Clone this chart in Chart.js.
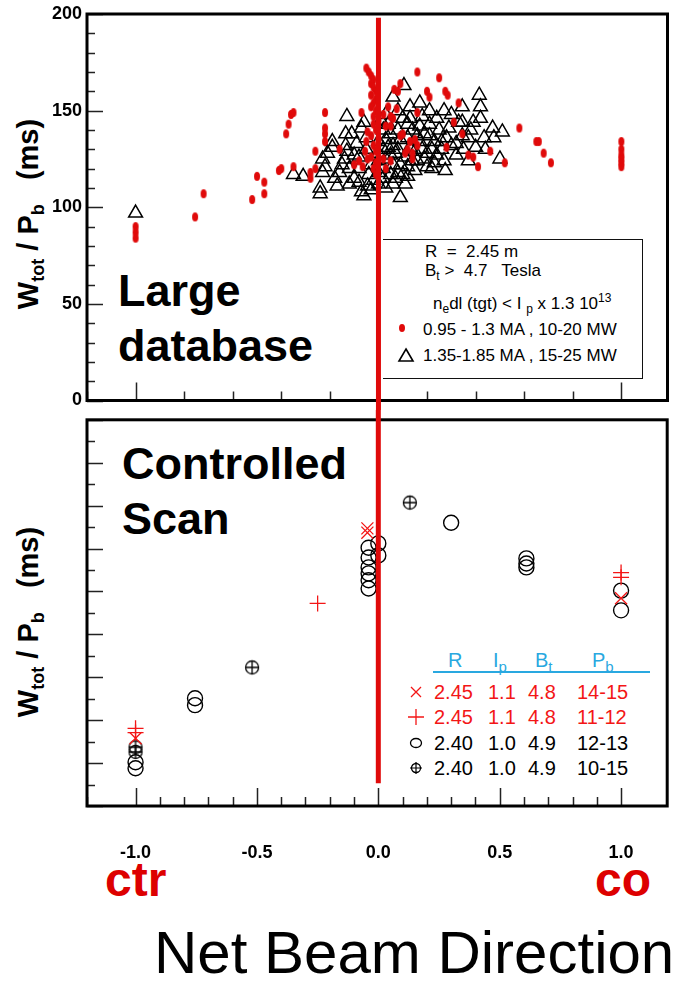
<!DOCTYPE html>
<html><head><meta charset="utf-8">
<script src="https://cdn.jsdelivr.net/npm/chart.js@4.4.0/dist/chart.umd.min.js"></script>
<style>
body{margin:0;background:#fff;font-family:"Liberation Sans",Arial,sans-serif}
#wrap{position:relative;width:677px;height:981px;overflow:hidden;background:#fff}
.t{position:absolute;white-space:pre;line-height:1}
.b{font-weight:bold}
canvas{position:absolute;left:0}
svg{position:absolute;overflow:visible}
.ytitle{position:absolute;white-space:pre;line-height:1;font-weight:bold;font-size:29px;transform:translate(-50%,-50%) rotate(-90deg)}
.ytitle sub{font-size:18px;vertical-align:-6px}
</style></head><body>
<div id="wrap">
  <div class="ytitle" style="left:30px;top:214px">W<sub>tot</sub> / P<sub>b</sub>   (ms)</div>
  <div class="ytitle" style="left:30px;top:622px">W<sub>tot</sub> / P<sub>b</sub>   (ms)</div>

  <div class="t b" style="left:118px;top:268px;font-size:45px">Large</div>
  <div class="t b" style="left:118px;top:323px;font-size:45px">database</div>
  <div class="t b" style="left:122px;top:441px;font-size:45px">Controlled</div>
  <div class="t b" style="left:122px;top:496px;font-size:45px">Scan</div>

  <div style="position:absolute;left:383px;top:239px;width:259px;height:138px;border:1.5px solid #111;border-left:none"></div>
  <div class="t" style="left:425px;top:243px;font-size:17px">R  =  2.45 m</div>
  <div class="t" style="left:425px;top:262px;font-size:17px">B<sub style="font-size:12px">t</sub> &gt;  4.7   Tesla</div>
  <div class="t" style="left:433px;top:292px;font-size:17px">n<sub style="font-size:12px">e</sub>dl (tgt) &lt; I <sub style="font-size:12px">p</sub> x 1.3 10<sup style="font-size:12px">13</sup></div>
  <svg style="left:398px;top:323px" width="8" height="10"><ellipse cx="4" cy="5" rx="3" ry="4" fill="#e00a0a"/></svg>
  <div class="t" style="left:423px;top:321px;font-size:17px">0.95 - 1.3 MA , 10-20 MW</div>
  <svg style="left:398px;top:348px" width="16" height="14"><polygon points="8,1 15,13 1,13" fill="none" stroke="#000" stroke-width="1.6"/></svg>
  <div class="t" style="left:423px;top:347px;font-size:17px">1.35-1.85 MA , 15-25 MW</div>

  <div class="t" style="left:448px;top:650px;font-size:20px;color:#29a8e0">R</div>
  <div class="t" style="left:493px;top:650px;font-size:20px;color:#29a8e0">I<sub style="font-size:15px">p</sub></div>
  <div class="t" style="left:535px;top:650px;font-size:20px;color:#29a8e0">B<sub style="font-size:15px">t</sub></div>
  <div class="t" style="left:592px;top:650px;font-size:20px;color:#29a8e0">P<sub style="font-size:15px">b</sub></div>
  <div style="position:absolute;left:433px;top:671px;width:217px;height:1.5px;background:#29a8e0"></div>

  <svg style="left:410px;top:686px" width="12" height="12"><path d="M1,1 L11,11 M11,1 L1,11" stroke="#f31616" stroke-width="1.3"/></svg>
  <svg style="left:408px;top:709px" width="16" height="16"><path d="M8,0 L8,16 M0,8 L16,8" stroke="#f31616" stroke-width="1.3"/></svg>
  <svg style="left:410px;top:738px" width="12" height="10"><ellipse cx="6" cy="5" rx="5.5" ry="4.5" fill="none" stroke="#000" stroke-width="1.3"/></svg>
  <svg style="left:410px;top:762px" width="12" height="12"><circle cx="6" cy="6" r="4.5" fill="none" stroke="#000" stroke-width="1.3"/><path d="M6,0 L6,12 M0,6 L12,6" stroke="#000" stroke-width="1.2"/></svg>

  <div class="t" style="left:434px;top:682px;font-size:20px;color:#f31616">2.45</div>
  <div class="t" style="left:488px;top:682px;font-size:20px;color:#f31616">1.1</div>
  <div class="t" style="left:528px;top:682px;font-size:20px;color:#f31616">4.8</div>
  <div class="t" style="left:577px;top:682px;font-size:20px;color:#f31616">14-15</div>
  <div class="t" style="left:434px;top:707px;font-size:20px;color:#f31616">2.45</div>
  <div class="t" style="left:488px;top:707px;font-size:20px;color:#f31616">1.1</div>
  <div class="t" style="left:528px;top:707px;font-size:20px;color:#f31616">4.8</div>
  <div class="t" style="left:577px;top:707px;font-size:20px;color:#f31616">11-12</div>
  <div class="t" style="left:434px;top:733px;font-size:20px">2.40</div>
  <div class="t" style="left:488px;top:733px;font-size:20px">1.0</div>
  <div class="t" style="left:528px;top:733px;font-size:20px">4.9</div>
  <div class="t" style="left:577px;top:733px;font-size:20px">12-13</div>
  <div class="t" style="left:434px;top:758px;font-size:20px">2.40</div>
  <div class="t" style="left:488px;top:758px;font-size:20px">1.0</div>
  <div class="t" style="left:528px;top:758px;font-size:20px">4.9</div>
  <div class="t" style="left:577px;top:758px;font-size:20px">10-15</div>

  <div class="t b" style="left:105px;top:856px;font-size:48px;color:#dd0000">ctr</div>
  <div class="t b" style="left:595px;top:856px;font-size:48px;color:#dd0000">co</div>
  <div class="t" style="left:154px;top:923px;font-size:60px">Net Beam Direction</div>

  <canvas id="cTop" width="677" height="410" style="top:0"></canvas>
  <canvas id="cBot" width="677" height="571" style="top:410px"></canvas>
</div>
<script>
// axis ranges
const X_MIN = -1.2, X_MAX = 1.19;
const TOP_Y = [0, 200];
const BOT_Y = [0, 90];

// large database: 0.95 - 1.3 MA , 10-20 MW  (x, Wtot/Pb)
const dbLowIp = [
  [-1.0,90],[-1.0,87],[-1.0,84],
  [-0.755,95],[-0.72,107],[-0.52,104],[-0.50,116],[-0.47,113],[-0.47,107],[-0.41,119],[-0.35,121],
  [-0.36,148],[-0.35,149],[-0.37,143],[-0.38,138],
  [-0.22,149],[-0.22,141],[-0.22,138],[-0.22,134],[-0.26,129],[-0.40,120],[-0.28,118],[-0.28,115],[-0.26,120],[-0.16,130],[-0.10,122],
  [-0.05,172],[-0.04,170],[-0.03,168],[-0.02,166],[-0.03,164],[-0.02,162],[-0.01,160],[-0.03,158],[-0.01,156],[-0.02,154],
  [-0.03,152],[-0.01,150],[-0.02,147],[0.0,145],[-0.02,143],[-0.01,140],[-0.03,137],[0.0,135],[-0.02,132],[-0.01,129],
  [-0.03,126],[-0.01,123],[-0.02,120],[-0.01,117],
  [-0.07,149],[-0.045,139],[-0.05,134],[-0.055,129],[-0.045,125],[-0.065,121],[-0.08,124],
  [0.04,152],[0.06,146],[0.065,161],[0.02,148],[0.03,142],
  [0.16,170],[0.25,167],[0.09,164],[0.08,160],[0.2,160],[0.21,157],[0.275,160],[0.285,158],[0.33,154],[0.075,151],
  [0.05,147],[0.16,149],[0.31,144],[0.345,138],[0.05,142],[0.09,137],[0.13,134],[0.12,130],[0.14,125],[0.28,131],
  [0.37,127],[0.39,126],[0.41,121],[0.46,129],[0.52,123],
  [0.1,138],[0.15,135],[0.16,132],[0.11,128],[0.14,128],[0.05,124],[0.02,125],[0.03,120],
  [0.58,141],[0.65,134],[0.66,134],[0.68,128],[0.71,123],
  [1.0,134],[1.0,130],[1.0,127],[1.0,125],[1.0,123],[1.0,121]
];
// large database: 1.35-1.85 MA , 15-25 MW
const dbHighIp = [
  [-1.0,97],
  [-0.35,117],[-0.31,116],[-0.24,110],[-0.24,107],[-0.17,111],[-0.22,121],[-0.23,118],[-0.23,125],[-0.21,128],[-0.19,131],
  [-0.19,134],[-0.16,118],[-0.14,125],[-0.135,138],[-0.135,132],[-0.13,147],[-0.13,129],[-0.12,120],[-0.10,127],[-0.10,115],
  [-0.09,133],[-0.08,126],[-0.08,120],[-0.08,113],[-0.07,108],[-0.06,144],[-0.05,136],[-0.05,130],[-0.045,111],[-0.04,117],
  [-0.03,122],[-0.03,109],[-0.02,114],[-0.15,122],[-0.18,115],[-0.12,112],[-0.06,106],[-0.11,138],[-0.07,141],
  [0.03,148],[0.06,157],[0.105,163],[0.13,152],[0.17,154],[0.21,150],[0.27,150],[0.415,158],[0.42,152],[0.42,146],
  [0.345,152],[0.345,144],[0.345,137],[0.39,144],[0.435,136],[0.47,141],[0.51,139],[0.475,136],[0.5,125],[0.275,119],
  [0.23,123],[0.15,119],[0.09,105],[0.08,118],[0.2,128],[0.26,134],[0.32,127],[0.32,133],[0.21,137],[0.17,142],
  [0.12,143],[0.17,134],[0.21,143],[0.29,141],[0.33,144],[0.11,126],[0.08,130],
  [0.02,140],[0.03,135],[0.02,130],[0.03,125],[0.02,120],[0.02,115],[0.03,110],[0.05,138],[0.06,132],[0.05,127],
  [0.06,122],[0.05,117],[0.06,112],[0.08,140],[0.09,135],[0.09,122],[0.1,117],[0.11,112],[0.12,136],[0.13,131],
  [0.14,124],[0.15,129],[0.16,137],[0.18,130],[0.19,125],[0.22,130],[0.24,127],[0.25,140],[0.28,136],[0.3,132],
  [0.35,130],[0.37,136],[0.38,140],[0.24,146],[0.3,148],[0.18,147],[0.13,146],[0.08,150],[0.0,124],[0.0,118],
  [0.0,128],[0.0,134],[0.0,112],[0.07,128],[0.22,120],[0.27,124],[0.12,121],[0.4,131],[0.44,130],[0.37,124],
  [0.01,145],[0.04,143],[0.1,146],[0.14,140],[0.19,138],[0.23,134],[0.26,130],[0.04,131],[0.07,115],[0.12,116],
  [0.16,124],[0.2,121]
];

// controlled scan (y axis unlabelled in the original)
const scanX145 = [[-0.045,64.7],[-0.045,63.7],[-1.0,15.8],[1.0,48.4]];                 // 2.45 1.1 4.8 14-15
const scanP1112 = [[-0.25,47.2],[-1.0,18.1],[-1.0,17.1],[1.0,54.4],[1.0,53.3]];         // 2.45 1.1 4.8 11-12
const scanO1213 = [[-0.04,60.2],[-0.04,57.9],[-0.04,55.6],[-0.04,54.2],[-0.04,52.6],[-0.04,50.7],
  [0.0,61.2],[0.0,58.4],[0.30,66.0],[0.61,57.7],[0.61,56.5],[0.61,55.6],[1.0,50.2],[1.0,45.6],
  [-0.755,25.1],[-0.755,23.5],[-1.0,10.2],[-1.0,8.8]];                                   // 2.40 1.0 4.9 12-13
const scanC1015 = [[0.13,70.7],[-0.52,32.3],[-1.0,13.7],[-1.0,12.6]];                   // 2.40 1.0 4.9 10-15

const RED = '#e00a0a', RED2 = '#f31616';
const FONT = '"Liberation Sans", Arial, sans-serif';
const pts = a => a.map(p => ({x: p[0], y: p[1]}));

function ellipseImg(rx, ry, color) {
  const c = document.createElement('canvas');
  c.width = rx*2+2; c.height = ry*2+2;
  const g = c.getContext('2d');
  g.fillStyle = color;
  g.beginPath(); g.ellipse(c.width/2, c.height/2, rx, ry, 0, 0, Math.PI*2); g.fill();
  return c;
}
function crossCircleImg() {
  const c = document.createElement('canvas');
  c.width = 18; c.height = 18;
  const g = c.getContext('2d');
  g.strokeStyle = '#000'; g.lineWidth = 1.3;
  g.beginPath(); g.arc(9, 9, 6.5, 0, Math.PI*2); g.stroke();
  g.beginPath(); g.moveTo(9, 2); g.lineTo(9, 16); g.moveTo(2, 9); g.lineTo(16, 9); g.stroke();
  return c;
}

const near = (v, s) => Math.abs(v/s - Math.round(v/s)) < 1e-6;
const fitX = h => s => { s.height = h; s.paddingLeft = 0; s.paddingRight = 0; };
const fitY = s => { s.width = 87; s.paddingTop = 0; s.paddingBottom = 0; };

// ROOT-like frame, inward ticks and the red line at x = 0
const rootFrame = {
  id: 'rootFrame',
  afterDatasetsDraw(chart, args, o) {
    const {ctx, chartArea: a, scales: {x, y}} = chart;
    ctx.save();
    ctx.strokeStyle = '#222';
    ctx.lineWidth = 1.5;
    ctx.beginPath();
    x.ticks.forEach(t => {
      if (!near(t.value, o.xStep)) return;
      const px = Math.round(x.getPixelForValue(t.value)) + 0.5;
      const len = near(t.value, 0.5) ? 18 : 9;
      ctx.moveTo(px, a.bottom); ctx.lineTo(px, a.bottom - len);
    });
    y.ticks.forEach(t => {
      if (!near(t.value, o.yStep)) return;
      const py = Math.round(y.getPixelForValue(t.value)) + 0.5;
      const len = near(t.value, o.yMajor) ? 16 : 8;
      ctx.moveTo(a.left, py); ctx.lineTo(a.left + len, py);
    });
    ctx.stroke();
    ctx.strokeStyle = '#000';
    ctx.lineWidth = 3;
    ctx.strokeRect(a.left, a.top, a.right - a.left, a.bottom - a.top);
    // vertical marker at zero beam direction
    const x0 = x.getPixelForValue(0);
    ctx.strokeStyle = RED;
    ctx.lineWidth = 5;
    ctx.beginPath();
    ctx.moveTo(x0, y.getPixelForValue(o.lineFrom));
    ctx.lineTo(x0, y.getPixelForValue(o.lineTo));
    ctx.stroke();
    ctx.restore();
  }
};

const tickFont = {family: FONT, size: 18, weight: 'bold'};

new Chart(document.getElementById('cTop'), {
  type: 'scatter',
  data: {datasets: [
    {data: pts(dbLowIp), pointStyle: ellipseImg(3, 4.5, RED), pointRadius: 4},
    {data: pts(dbHighIp), pointStyle: 'triangle', pointRadius: 8, backgroundColor: 'rgba(0,0,0,0)', borderColor: '#000', borderWidth: 1.5}
  ]},
  options: {
    responsive: false, animation: false, events: [],
    layout: {padding: {left: 0, right: 7, top: 14, bottom: 0}},
    plugins: {legend: {display: false}, tooltip: {enabled: false},
      rootFrame: {xStep: 0.2, yStep: 10, yMajor: 50, lineFrom: 198, lineTo: -10}},
    scales: {
      x: {type: 'linear', min: X_MIN, max: X_MAX, afterFit: fitX(7),
        grid: {display: false, drawTicks: false}, border: {display: false},
        ticks: {display: false, stepSize: 0.2}},
      y: {type: 'linear', min: TOP_Y[0], max: TOP_Y[1], afterFit: fitY,
        grid: {display: false, drawTicks: false}, border: {display: false},
        ticks: {stepSize: 10, autoSkip: false, padding: 5, color: '#000', font: tickFont,
          callback: v => near(v, 50) ? String(v) : ''}}
    }
  },
  plugins: [rootFrame]
});

new Chart(document.getElementById('cBot'), {
  type: 'scatter',
  data: {datasets: [
    {data: pts(scanX145), pointStyle: 'crossRot', pointRadius: 8.5, borderColor: RED2, borderWidth: 1.3},
    {data: pts(scanP1112), pointStyle: 'cross', pointRadius: 8, borderColor: RED2, borderWidth: 1.3},
    {data: pts(scanO1213), pointStyle: 'circle', pointRadius: 7.5, backgroundColor: 'rgba(0,0,0,0)', borderColor: '#000', borderWidth: 1.4},
    {data: pts(scanC1015), pointStyle: crossCircleImg(), pointRadius: 8}
  ]},
  options: {
    responsive: false, animation: false, events: [],
    layout: {padding: {left: 0, right: 7, top: 9, bottom: 0}},
    plugins: {legend: {display: false}, tooltip: {enabled: false},
      rootFrame: {xStep: 0.1, yStep: 5, yMajor: 10, lineFrom: 95, lineTo: 5.3}},
    scales: {
      x: {type: 'linear', min: X_MIN, max: X_MAX, afterFit: fitX(175),
        grid: {display: false, drawTicks: false}, border: {display: false},
        ticks: {stepSize: 0.1, autoSkip: false, maxRotation: 0, padding: 36, color: '#000', font: tickFont,
          callback: v => near(v, 0.5) && near(v, 0.1) ? v.toFixed(1) : ''}},
      y: {type: 'linear', min: BOT_Y[0], max: BOT_Y[1], afterFit: fitY,
        grid: {display: false, drawTicks: false}, border: {display: false},
        ticks: {stepSize: 5, autoSkip: false, callback: () => ''}}
    }
  },
  plugins: [rootFrame]
});
</script>
</body></html>
